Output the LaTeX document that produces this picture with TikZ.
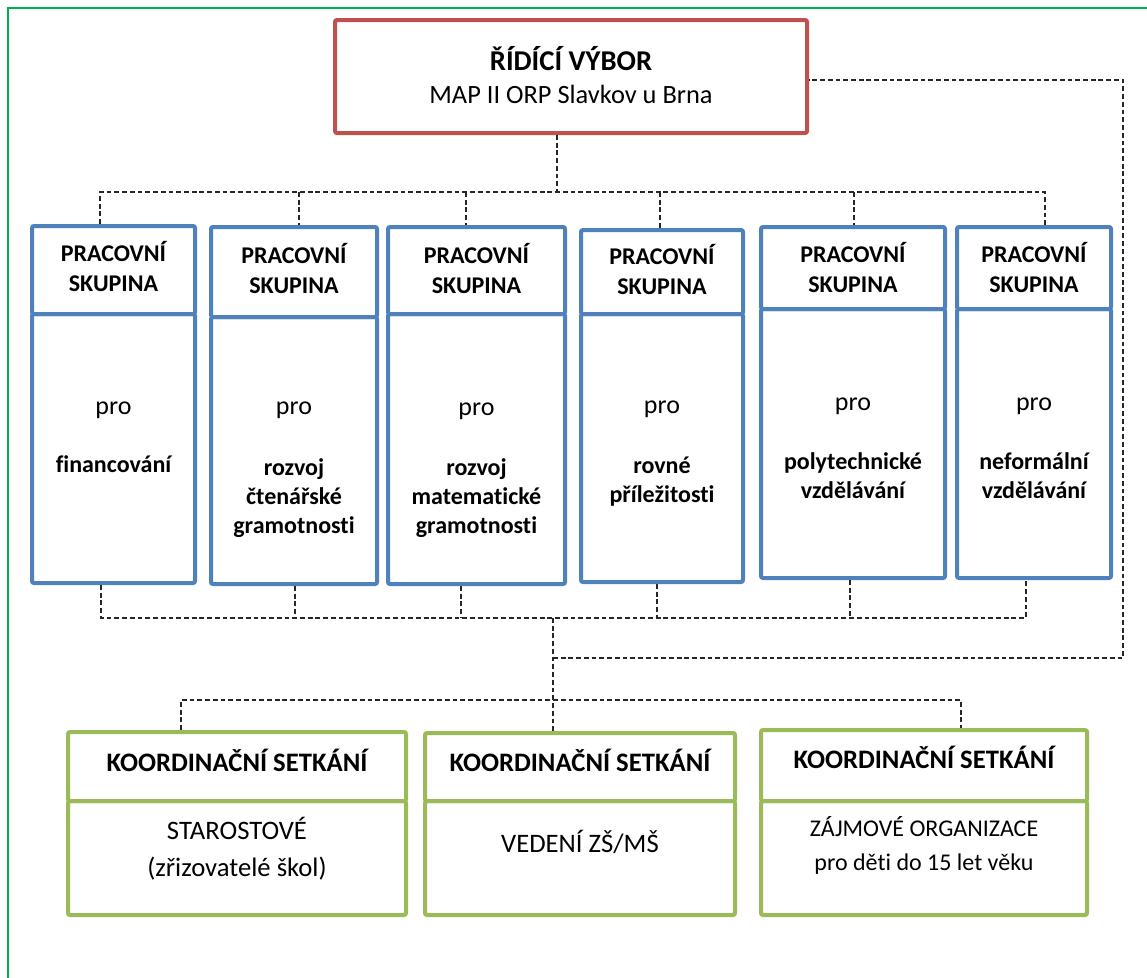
\documentclass[tikz,border=0pt]{standalone}
\usepackage{fontspec}
\setmainfont{Carlito}[Ligatures={NoCommon,NoContextual}]
\usetikzlibrary{fit}
\definecolor{wgred}{HTML}{C0504D}
\definecolor{wgblue}{HTML}{4F81BD}
\definecolor{wggreen}{HTML}{9BBB59}
\definecolor{framegreen}{HTML}{00B050}
\begin{document}
\begin{tikzpicture}[x=0.75pt,y=-0.75pt,
  box/.style={draw, line width=3pt, rounded corners=1.5pt, inner sep=0pt},
  redbox/.style={box, draw=wgred},
  bluebox/.style={box, draw=wgblue},
  greenbox/.style={box, draw=wggreen},
  conn/.style={draw=black!85, line width=1pt, dash pattern=on 3.6pt off 2.2pt},
  txt/.style={anchor=base, inner sep=0pt, text=black},
  rtitle/.style={txt, font=\fontsize{21.5}{26}\selectfont\bfseries},
  rsub/.style={txt, font=\fontsize{19.8}{24}\selectfont},
  bhead/.style={txt, font=\fontsize{18}{22}\selectfont\bfseries},
  bpro/.style={txt, font=\fontsize{19.5}{23}\selectfont},
  gbig/.style={txt, font=\fontsize{20}{24}\selectfont},
  gsmall/.style={txt, font=\fontsize{18}{22}\selectfont},
  ghead/.style={txt, font=\fontsize{20}{24}\selectfont\bfseries}
]
\useasboundingbox (0,0) rectangle (1147,978);
\fill[white] (0,0) rectangle (1147,978);
\draw[framegreen, line width=1.6pt] (8,978) -- (8,8) -- (1147,8);

% ---------- boxes ----------
\node[redbox, fit={(335,20) (807,133)}] (rv) {};

\node[bluebox, fit={(32,226) (195,314)}] (b1h) {};
\node[bluebox, fit={(32,314) (195,583)}] (b1b) {};
\node[bluebox, fit={(211,227) (377,317)}] (b2h) {};
\node[bluebox, fit={(211,317) (377,584)}] (b2b) {};
\node[bluebox, fit={(388,227) (565,314)}] (b3h) {};
\node[bluebox, fit={(388,314) (565,584)}] (b3b) {};
\node[bluebox, fit={(581,230) (743,314)}] (b4h) {};
\node[bluebox, fit={(581,314) (743,582)}] (b4b) {};
\node[bluebox, fit={(761,227) (945,309)}] (b5h) {};
\node[bluebox, fit={(761,309) (945,578)}] (b5b) {};
\node[bluebox, fit={(957,227) (1111,309)}] (b6h) {};
\node[bluebox, fit={(957,309) (1111,578)}] (b6b) {};

\node[greenbox, fit={(68,732) (406,801)}] (g1h) {};
\node[greenbox, fit={(68,801) (406,915)}] (g1b) {};
\node[greenbox, fit={(425,733) (735,801)}] (g2h) {};
\node[greenbox, fit={(425,801) (735,915)}] (g2b) {};
\node[greenbox, fit={(761,730) (1087,801)}] (g3h) {};
\node[greenbox, fit={(761,801) (1087,915)}] (g3b) {};

% ---------- connectors ----------
\coordinate (tb) at (557,192);
\draw[conn] (557,0 |- rv.south) -- (tb);
\draw[conn] (100,0 |- b1h.north) -- (100,192) -- (1045,192) -- (1045,0 |- b6h.north);
\draw[conn] (299,192) -- (299,0 |- b2h.north);
\draw[conn] (466,192) -- (466,0 |- b3h.north);
\draw[conn] (660,192) -- (660,0 |- b4h.north);
\draw[conn] (854,192) -- (854,0 |- b5h.north);

\coordinate (bb) at (553,618);
\draw[conn] (101,0 |- b1b.south) -- (101,618) -- (1026,618) -- (1026,0 |- b6b.south);
\draw[conn] (295,0 |- b2b.south) -- (295,618);
\draw[conn] (461,0 |- b3b.south) -- (461,618);
\draw[conn] (657,0 |- b4b.south) -- (657,618);
\draw[conn] (850,0 |- b5b.south) -- (850,618);
\draw[conn] (bb) -- (553,0 |- g2h.north);
\draw[conn] (553,658) -- (1123,658) -- (1123,80) -- (rv.east |- 0,80);
\draw[conn] (181,0 |- g1h.north) -- (181,700) -- (961,700) -- (961,0 |- g3h.north);

% ---------- texts ----------
\node[rtitle] (rvt1) at (571,70) {ŘÍDÍCÍ VÝBOR};
\node[rsub] (rvt2) at (571,103) {MAP II ORP Slavkov u Brna};

% box 1
\node[bhead] (b1t1) at (113.5,261) {PRACOVNÍ};
\node[bhead] (b1t2) at (113.5,291) {SKUPINA};
\node[bpro] (b1t3) at (113.5,414) {pro};
\node[bhead] (b1t4) at (113.5,472) {financování};
% box 2
\node[bhead] (b2t1) at (294,263) {PRACOVNÍ};
\node[bhead] (b2t2) at (294,293) {SKUPINA};
\node[bpro] (b2t3) at (294,414) {pro};
\node[bhead] (b2t4) at (294,475) {rozvoj};
\node[bhead] (b2t5) at (294,504) {čtenářské};
\node[bhead] (b2t6) at (294,533) {gramotnosti};
% box 3
\node[bhead] (b3t1) at (476.5,263) {PRACOVNÍ};
\node[bhead] (b3t2) at (476.5,293) {SKUPINA};
\node[bpro] (b3t3) at (476.5,415) {pro};
\node[bhead] (b3t4) at (476.5,475) {rozvoj};
\node[bhead] (b3t5) at (476.5,504) {matematické};
\node[bhead] (b3t6) at (476.5,533) {gramotnosti};
% box 4
\node[bhead] (b4t1) at (662,264) {PRACOVNÍ};
\node[bhead] (b4t2) at (662,294) {SKUPINA};
\node[bpro] (b4t3) at (662,413) {pro};
\node[bhead] (b4t4) at (662,473) {rovné};
\node[bhead] (b4t5) at (662,502) {příležitosti};
% box 5
\node[bhead] (b5t1) at (853,262) {PRACOVNÍ};
\node[bhead] (b5t2) at (853,292) {SKUPINA};
\node[bpro] (b5t3) at (853,410) {pro};
\node[bhead] (b5t4) at (853,469) {polytechnické};
\node[bhead] (b5t5) at (853,498) {vzdělávání};
% box 6
\node[bhead] (b6t1) at (1034,262) {PRACOVNÍ};
\node[bhead] (b6t2) at (1034,292) {SKUPINA};
\node[bpro] (b6t3) at (1034,410) {pro};
\node[bhead] (b6t4) at (1034,469) {neformální};
\node[bhead] (b6t5) at (1034,498) {vzdělávání};

% green boxes
\node[ghead] (g1t1) at (237,771) {KOORDINAČNÍ SETKÁNÍ};
\node[gbig] (g1t2) at (237,839) {STAROSTOVÉ};
\node[gbig] (g1t3) at (237,876) {(zřizovatelé škol)};
\node[ghead] (g2t1) at (580,771) {KOORDINAČNÍ SETKÁNÍ};
\node[gbig] (g2t2) at (580,852) {VEDENÍ ZŠ/MŠ};
\node[ghead] (g3t1) at (924,768) {KOORDINAČNÍ SETKÁNÍ};
\node[gsmall] (g3t2) at (924,836) {ZÁJMOVÉ ORGANIZACE};
\node[gsmall] (g3t3) at (924,870) {pro děti do 15 let věku};
\end{tikzpicture}
\end{document}
